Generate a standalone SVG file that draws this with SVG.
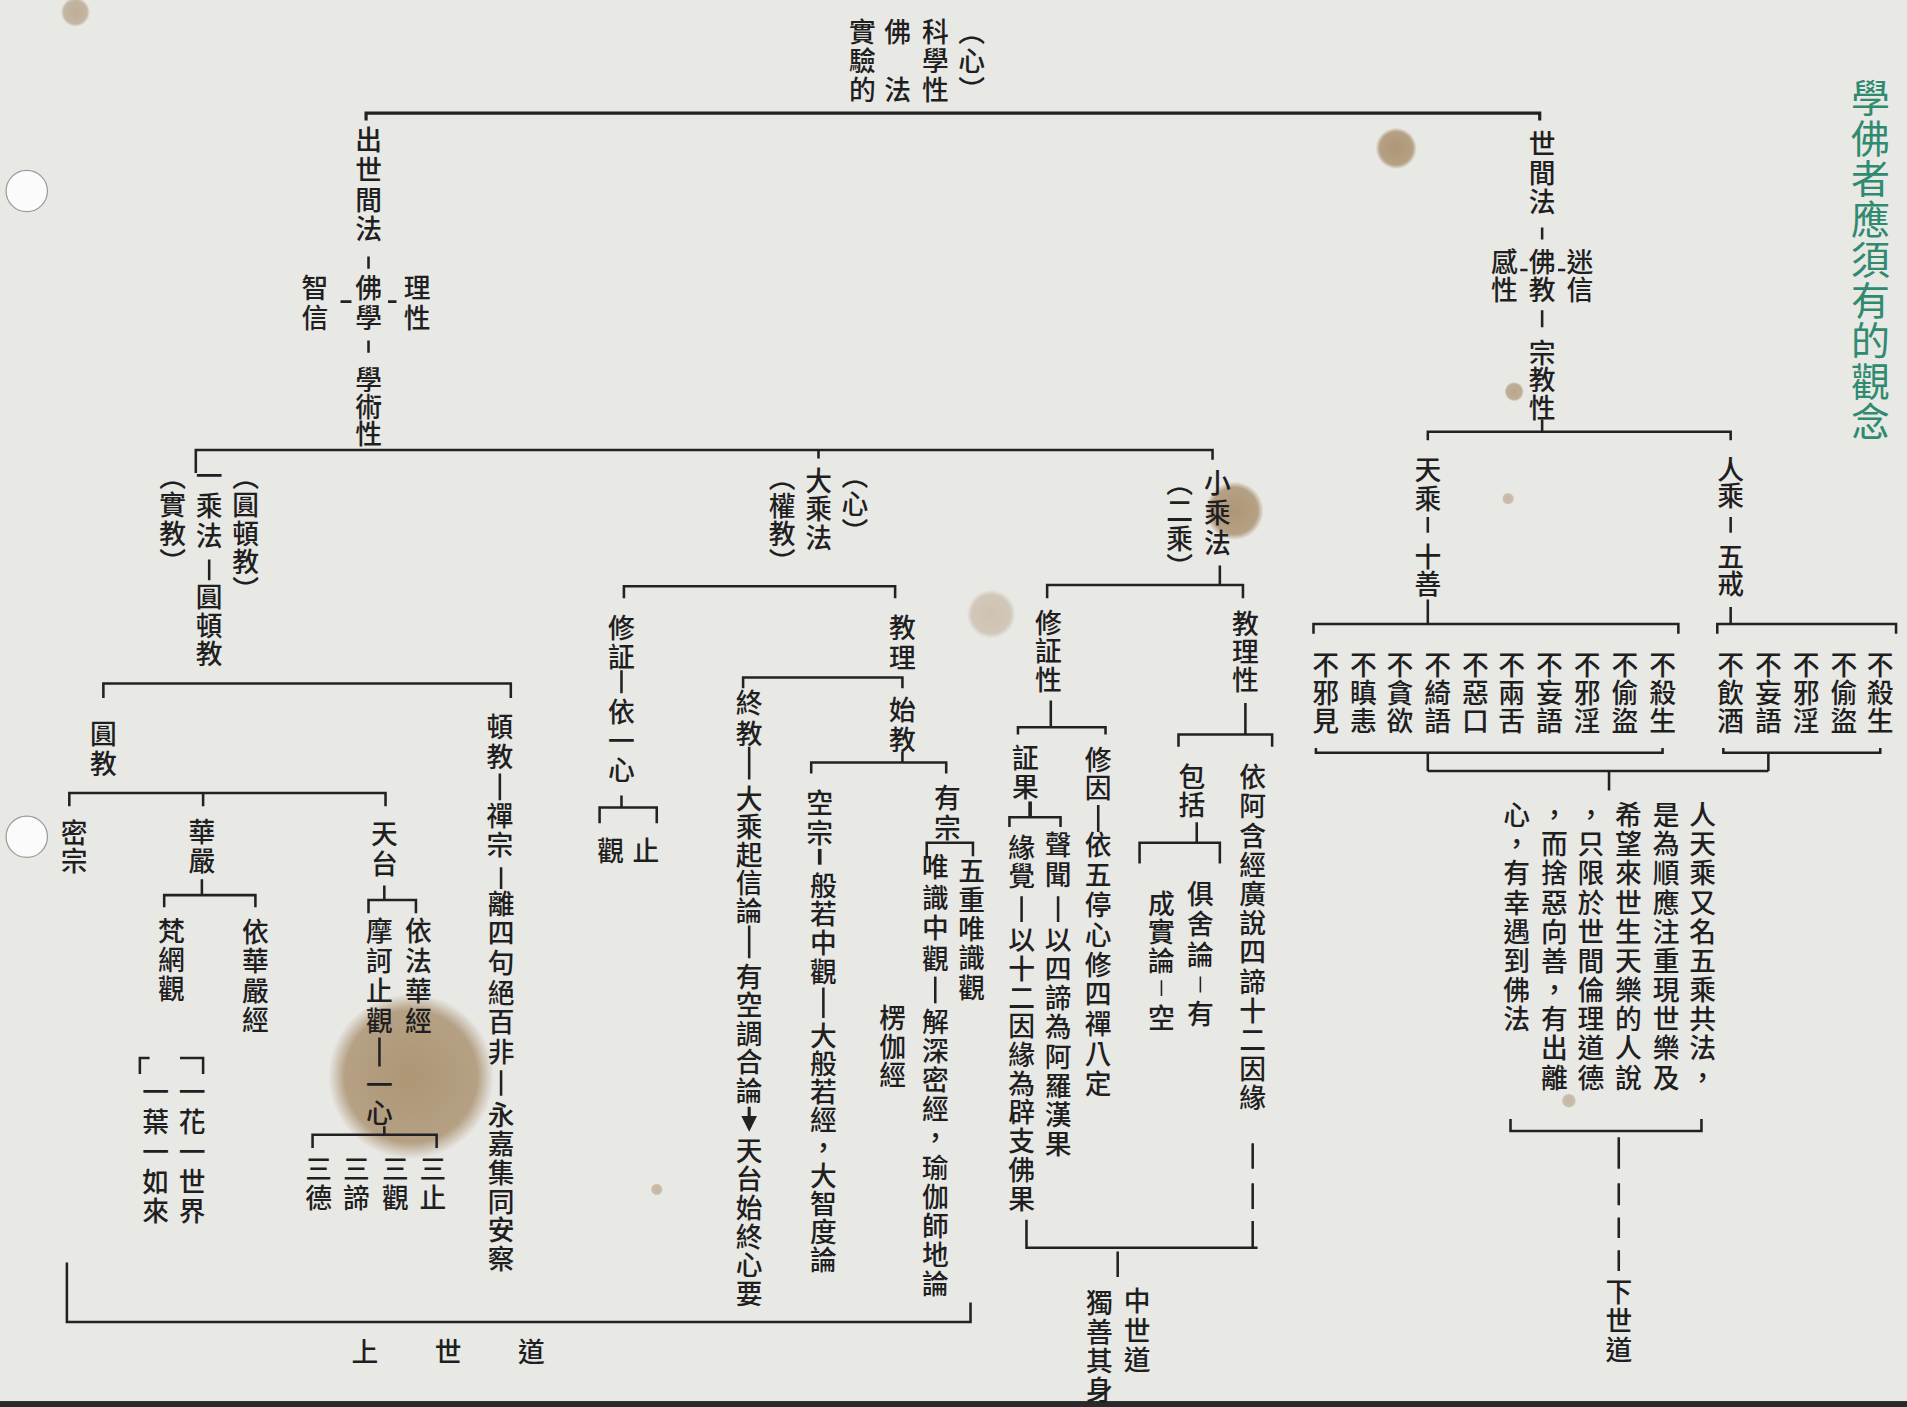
<svg xmlns="http://www.w3.org/2000/svg" width="1907" height="1407" viewBox="0 0 1907 1407">
<defs>
<style>
.t{font-family:"Noto Sans CJK TC","Noto Sans CJK SC",sans-serif;font-size:22px;font-weight:500;writing-mode:vertical-rl;letter-spacing:2px;fill:#1f1f1f;}
.h{font-family:"Noto Sans CJK TC","Noto Sans CJK SC",sans-serif;font-size:22px;font-weight:500;fill:#1f1f1f;}
.g{font-family:"Noto Sans CJK TC","Noto Sans CJK SC",sans-serif;font-size:32px;writing-mode:vertical-rl;letter-spacing:1.3px;fill:#2f8a70;}
.ln{stroke:#222;stroke-width:2.1;fill:none;}
</style>
<radialGradient id="stain">
<stop offset="0" stop-color="#9a7a50" stop-opacity="0.75"/>
<stop offset="0.8" stop-color="#9a7a50" stop-opacity="0.65"/>
<stop offset="1" stop-color="#9a7a50" stop-opacity="0"/>
</radialGradient>
<marker id="arr" viewBox="0 0 10 10" refX="5" refY="5" markerWidth="5" markerHeight="5" orient="auto">
<path d="M0,0 L10,5 L0,10 z" fill="#222"/>
</marker>
</defs>
<rect width="1907" height="1407" fill="#e8e8e5"/>
<g transform="scale(1.2162)">
<g id="stains">
<circle cx="338" cy="885" r="68" fill="url(#stain)"/>
<circle cx="1148" cy="122" r="17" fill="url(#stain)"/>
<circle cx="1015" cy="420" r="24" fill="url(#stain)"/>
<circle cx="815" cy="505" r="20" fill="url(#stain)" opacity="0.45"/>
<circle cx="62" cy="10" r="12" fill="url(#stain)" opacity="0.7"/>
<circle cx="1245" cy="322" r="8" fill="url(#stain)" opacity="0.8"/>
<circle cx="1240" cy="410" r="5" fill="url(#stain)" opacity="0.6"/>
<circle cx="1290" cy="905" r="6" fill="url(#stain)" opacity="0.6"/>
<circle cx="540" cy="978" r="5" fill="url(#stain)" opacity="0.6"/>
</g>
<g id="holes">
<circle cx="22" cy="157" r="17" fill="#fbfbfb" stroke="#9a9a9a" stroke-width="1"/>
<circle cx="22" cy="688" r="17" fill="#fbfbfb" stroke="#9a9a9a" stroke-width="1"/>
<rect x="0" y="1152" width="1568" height="6" fill="#2a2a2a"/>
</g>

<g id="connectors">
<path class="ln" style="stroke-width:2.6" d="M301,99 V93 H1266 V99"/>
<path class="ln" d="M303,211 V221 M303,280 V290 M280,248 H289 M319,248 H326"/>
<path class="ln" d="M1268,187 V197 M1268,255 V269 M1250,222 H1256 M1281,222 H1287 M1268,345 V355"/>
<path class="ln" d="M161,389 V370 H997 V378 M673,370 V377"/>
<path class="ln" d="M85,574 V562 H420 V574 M172,460 V477"/>
<path class="ln" d="M411,636 V658 M412,713 V731 M412,880 V901"/>
<path class="ln" d="M57,663 V652 H317 V663 M167,652 V663"/>
<path class="ln" d="M166,723 V736 M135,746 V736 H210 V746"/>
<path class="ln" d="M115,883 V870 H123 M148,870 H167 V883"/>
<path class="ln" d="M316,728 V740 M303,751 V740 H342 V751"/>
<path class="ln" d="M312,853 V877 M316,926 V933 M257,944 V933 H359 V944"/>
<path class="ln" d="M55,1038 V1087 H798 V1071"/>
<path class="ln" d="M513,492 V482 H736 V492"/>
<path class="ln" d="M511,551 V570 M511,654 V664 M493,677 V664 H540 V677"/>
<path class="ln" d="M611,566 V557 H742 V566"/>
<path class="ln" d="M616,614 V641 M616,761 V788"/>
<path class="ln" style="stroke-width:2.6" marker-end="url(#arr)" d="M616,910 V924"/>
<path class="ln" d="M742,618 V627 M667,636 V627 H778 V636"/>
<path class="ln" style="stroke-width:3" d="M674,698 V711"/>
<path class="ln" d="M677,812 V837"/>
<path class="ln" d="M762,704 V693 H800 V704"/>
<path class="ln" d="M769,803 V825"/>
<path class="ln" d="M1003,465 V481 M861,492 V481 H1022 V492"/>
<path class="ln" d="M864,576 V598 M837,604 V598 H909 V604"/>
<path class="ln" style="stroke-width:3" d="M847,659 V672"/>
<path class="ln" d="M830,680 V672 H872 V680"/>
<path class="ln" d="M840,737 V758 M870,737 V758 M903,662 V684"/>
<path class="ln" d="M1024,578 V604 M969,614 V604 H1046 V614"/>
<path class="ln" d="M984,676 V693 M937,710 V693 H1003 V710"/>
<path class="ln" style="stroke-width:1.3" d="M987,803 V816 M955,806 V819"/>
<path class="ln" d="M1030,940 V961 M1030,973 V994 M1030,1004 V1026"/>
<path class="ln" d="M844,1003 V1026 H1034 M919,1029 V1050"/>
<path class="ln" d="M1174,362 V355 H1423 V362"/>
<path class="ln" d="M1174,425 V438 M1174,493 V513 M1423,425 V438 M1423,499 V513"/>
<path class="ln" d="M1080,521 V513 H1380 V521 M1412,521 V513 H1559 V521"/>
<path class="ln" d="M1082,615 V619 H1367 V615 M1174,619 V634 M1417,615 V619 H1546 V615 M1454,619 V634"/>
<path class="ln" d="M1174,634 H1454 M1323,634 V650"/>
<path class="ln" d="M1242,920 V930 H1399 V920"/>
<path class="ln" d="M1331,935 V961 M1331,973 V991 M1331,1001 V1018 M1331,1028 V1045"/>
</g>

<g id="n-title">
<text class="t" x="799" y="15">（心）</text>
<text class="t" x="769" y="15">科學性</text>
<text class="t" x="738" y="15">佛</text>
<text class="t" x="738" y="63">法</text>
<text class="t" x="709" y="15">實驗的</text>
</g>
<g id="n-green-title"><text class="g" x="1538" y="64">學佛者應須有的觀念</text></g>

<g id="n-chushijian">
<text class="t" x="303" y="104" style="letter-spacing:2.5px">出世間法</text>
<text class="t" x="303" y="226">佛學</text>
<text class="t" x="303" y="301" style="letter-spacing:0.5px">學術性</text>
<text class="t" x="259" y="226">智信</text>
<text class="t" x="343" y="226">理性</text>
</g>
<g id="n-shijian">
<text class="t" x="1268" y="107">世間法</text>
<text class="t" x="1268" y="204" style="letter-spacing:1px">佛教</text>
<text class="t" x="1237" y="204" style="letter-spacing:1px">感性</text>
<text class="t" x="1299" y="204" style="letter-spacing:1px">迷信</text>
<text class="t" x="1268" y="279" style="letter-spacing:0.5px">宗教性</text>
</g>

<g id="n-yisheng">
<text class="t" x="172" y="380" style="letter-spacing:3px">一乘法</text>
<text class="t" x="172" y="480" style="letter-spacing:1.5px">圓頓教</text>
<text class="t" x="202" y="381" style="letter-spacing:1.3px">（圓頓教）</text>
<text class="t" x="142" y="381" style="letter-spacing:1.3px">（實教）</text>
</g>
<g id="n-yuanjiao"><text class="t" x="85" y="592" style="letter-spacing:3px">圓教</text></g>
<g id="n-dunjiao">
<text class="t" x="411" y="587">頓教</text>
<text class="t" x="411" y="660">禪宗</text>
<text class="t" x="412" y="732" style="letter-spacing:2.4px">離四句絕百非</text>
<text class="t" x="412" y="906" style="letter-spacing:1.6px">永嘉集同安察</text>
</g>
<g id="n-mizong"><text class="t" x="61" y="674" style="letter-spacing:1px">密宗</text></g>
<g id="n-huayan">
<text class="t" x="166" y="673">華嚴</text>
<text class="t" x="141" y="754">梵網觀</text>
<text class="t" x="210" y="755" style="letter-spacing:2.3px">依華嚴經</text>
<text class="t" x="158" y="887" style="letter-spacing:2.5px">一花一世界</text>
<text class="t" x="128" y="887" style="letter-spacing:2.5px">一葉一如來</text>
</g>
<g id="n-tiantai">
<text class="t" x="316" y="675">天台</text>
<text class="t" x="312" y="754" style="letter-spacing:2.7px">摩訶止觀</text>
<text class="t" x="312" y="881" style="letter-spacing:1px">一心</text>
<text class="t" x="344" y="754" style="letter-spacing:2.7px">依法華經</text>
<text class="t" x="262" y="950">三德</text>
<text class="t" x="293" y="950">三諦</text>
<text class="t" x="325" y="950">三觀</text>
<text class="t" x="356" y="950">三止</text>
</g>
<g id="n-shangshidao"><text class="h" x="289" y="1120" style="letter-spacing:46.5px">上世道</text></g>

<g id="n-dasheng">
<text class="t" x="673" y="384" style="letter-spacing:1.5px">大乘法</text>
<text class="t" x="643" y="382" style="letter-spacing:1px">（權教）</text>
<text class="t" x="703" y="380" style="letter-spacing:1px">（心）</text>
</g>
<g id="n-xiuzheng">
<text class="t" x="511" y="505">修証</text>
<text class="t" x="511" y="574">依一心</text>
<text class="t" x="502" y="689">觀</text>
<text class="t" x="531" y="689">止</text>
</g>
<g id="n-jiaoli"><text class="t" x="742" y="505" style="letter-spacing:3px">教理</text></g>
<g id="n-zhongjiao">
<text class="t" x="616" y="567" style="letter-spacing:3px">終教</text>
<text class="t" x="616" y="646" style="letter-spacing:1px">大乘起信論</text>
<text class="t" x="616" y="792" style="letter-spacing:1.5px">有空調合論</text>
<text class="t" x="616" y="935" style="letter-spacing:1.6px">天台始終心要</text>
</g>
<g id="n-shijiao"><text class="t" x="742" y="573">始教</text></g>
<g id="n-kongzong">
<text class="t" x="674" y="649" style="letter-spacing:3px">空宗</text>
<text class="t" x="677" y="717" style="letter-spacing:1.7px">般若中觀</text>
<text class="t" x="677" y="841" style="letter-spacing:1px">大般若經，大智度論</text>
</g>
<g id="n-youzong">
<text class="t" x="779" y="645" style="letter-spacing:3px">有宗</text>
<text class="t" x="769" y="702" style="letter-spacing:3px">唯識中觀</text>
<text class="t" x="769" y="829">解深密經，瑜伽師地論</text>
<text class="t" x="799" y="705">五重唯識觀</text>
<text class="t" x="734" y="826" style="letter-spacing:1.5px">楞伽經</text>
</g>

<g id="n-xiaosheng">
<text class="t" x="1001" y="386" style="letter-spacing:2.5px">小乘法</text>
<text class="t" x="970" y="386" style="letter-spacing:1px">（二乘）</text>
</g>
<g id="n-xiuzhengxing"><text class="t" x="862" y="501" style="letter-spacing:1.5px">修証性</text></g>
<g id="n-zhengguo">
<text class="t" x="843" y="612">証果</text>
<text class="t" x="840" y="686" style="letter-spacing:1px">緣覺</text>
<text class="t" x="840" y="762" style="letter-spacing:1.6px">以十二因緣為辟支佛果</text>
<text class="t" x="870" y="684">聲聞</text>
<text class="t" x="870" y="762" style="letter-spacing:1.9px">以四諦為阿羅漢果</text>
</g>
<g id="n-xiuyin">
<text class="t" x="903" y="614" style="letter-spacing:1px">修因</text>
<text class="t" x="903" y="684" style="letter-spacing:2.5px">依五停心修四禪八定</text>
</g>
<g id="n-jiaolixing"><text class="t" x="1024" y="502" style="letter-spacing:1px">教理性</text></g>
<g id="n-baokuo">
<text class="t" x="980" y="628" style="letter-spacing:1px">包括</text>
<text class="t" x="987" y="724" style="letter-spacing:3px">俱舍論</text>
<text class="t" x="987" y="823">有</text>
<text class="t" x="955" y="732" style="letter-spacing:1.5px">成實論</text>
<text class="t" x="955" y="826">空</text>
</g>
<g id="n-yiahan"><text class="t" x="1030" y="628">依阿含經廣說四諦十二因緣</text></g>
<g id="n-zhongshidao">
<text class="t" x="935" y="1059">中世道</text>
<text class="t" x="904" y="1060">獨善其身</text>
</g>

<g id="n-tiansheng">
<text class="t" x="1174" y="375">天乘</text>
<text class="t" x="1174" y="447" style="letter-spacing:0px">十善</text>
<text class="t" x="1090" y="536" style="letter-spacing:1px">不邪見</text>
<text class="t" x="1121" y="536" style="letter-spacing:1px">不瞋恚</text>
<text class="t" x="1151" y="536" style="letter-spacing:1px">不貪欲</text>
<text class="t" x="1182" y="536" style="letter-spacing:1px">不綺語</text>
<text class="t" x="1213" y="536" style="letter-spacing:1px">不惡口</text>
<text class="t" x="1243" y="536" style="letter-spacing:1px">不兩舌</text>
<text class="t" x="1274" y="536" style="letter-spacing:1px">不妄語</text>
<text class="t" x="1305" y="536" style="letter-spacing:1px">不邪淫</text>
<text class="t" x="1336" y="536" style="letter-spacing:1px">不偷盜</text>
<text class="t" x="1367" y="536" style="letter-spacing:1px">不殺生</text>
</g>
<g id="n-rensheng">
<text class="t" x="1423" y="375" style="letter-spacing:0px">人乘</text>
<text class="t" x="1423" y="447" style="letter-spacing:0px">五戒</text>
<text class="t" x="1423" y="536" style="letter-spacing:1px">不飲酒</text>
<text class="t" x="1454" y="536" style="letter-spacing:1px">不妄語</text>
<text class="t" x="1485" y="536" style="letter-spacing:1px">不邪淫</text>
<text class="t" x="1516" y="536" style="letter-spacing:1px">不偷盜</text>
<text class="t" x="1546" y="536" style="letter-spacing:1px">不殺生</text>
</g>
<g id="n-note">
<text class="t" x="1400" y="659">人天乘又名五乘共法，</text>
<text class="t" x="1370" y="659">是為順應注重現世樂及</text>
<text class="t" x="1339" y="659">希望來世生天樂的人說</text>
<text class="t" x="1308" y="659">，只限於世間倫理道德</text>
<text class="t" x="1278" y="659">，而捨惡向善，有出離</text>
<text class="t" x="1247" y="659">心，有幸遇到佛法</text>
</g>
<g id="n-xiashidao"><text class="t" x="1331" y="1051">下世道</text></g>
</g>
</svg>
